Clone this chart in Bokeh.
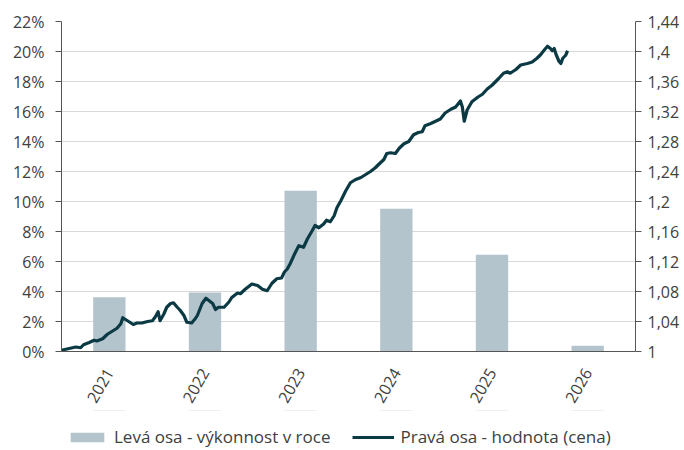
import math
from bokeh.plotting import figure
from bokeh.layouts import column
from bokeh.models import (Range1d, LinearAxis, FixedTicker, CustomJSTickFormatter,
                          Legend, LegendItem)
from bokeh.embed import file_html
from bokeh.resources import INLINE

# ---- data ----
years = [2021, 2022, 2023, 2024, 2025, 2026]
year_labels = ["2021", "2022", "2023", "2024", "2025", "2026"]
annual_perf = [3.62, 3.93, 10.71, 9.52, 6.45, 0.38]  # % (left axis)

price_t = [2020.50, 2020.51, 2020.58, 2020.65, 2020.70, 2020.73, 2020.79, 2020.84, 2020.87, 2020.93,
           2020.98, 2021.03, 2021.08, 2021.12, 2021.14, 2021.19, 2021.25, 2021.29, 2021.34, 2021.40,
           2021.45, 2021.48, 2021.51, 2021.53, 2021.57, 2021.60, 2021.64, 2021.67, 2021.71, 2021.74,
           2021.78, 2021.81, 2021.86, 2021.90, 2021.92, 2021.97, 2022.01, 2022.04, 2022.08, 2022.11,
           2022.14, 2022.20, 2022.25, 2022.28, 2022.34, 2022.37, 2022.42, 2022.49, 2022.55, 2022.60,
           2022.65, 2022.70, 2022.75, 2022.80, 2022.83, 2022.86, 2022.89, 2022.94, 2022.98, 2023.03,
           2023.07, 2023.12, 2023.15, 2023.19, 2023.24, 2023.27, 2023.31, 2023.35, 2023.38, 2023.42,
           2023.47, 2023.52, 2023.57, 2023.63, 2023.68, 2023.73, 2023.78, 2023.82, 2023.87, 2023.90,
           2023.94, 2023.99, 2024.03, 2024.08, 2024.13, 2024.18, 2024.23, 2024.27, 2024.30, 2024.36,
           2024.41, 2024.46, 2024.51, 2024.57, 2024.62, 2024.67, 2024.69, 2024.71, 2024.74, 2024.79,
           2024.85, 2024.90, 2024.95, 2025.00, 2025.07, 2025.12, 2025.16, 2025.19, 2025.25, 2025.30,
           2025.37, 2025.42, 2025.47, 2025.51, 2025.54, 2025.58, 2025.61, 2025.63, 2025.65, 2025.67,
           2025.70, 2025.72, 2025.74, 2025.77, 2025.79]
price_v = [1.000, 1.002, 1.004, 1.006, 1.005, 1.009, 1.012, 1.015, 1.014, 1.017,
           1.023, 1.027, 1.031, 1.037, 1.045, 1.041, 1.036, 1.038, 1.038, 1.040,
           1.041, 1.046, 1.053, 1.041, 1.050, 1.059, 1.064, 1.065, 1.059, 1.055,
           1.048, 1.039, 1.038, 1.044, 1.048, 1.064, 1.071, 1.068, 1.064, 1.056,
           1.059, 1.059, 1.066, 1.072, 1.078, 1.077, 1.083, 1.090, 1.088, 1.083,
           1.081, 1.091, 1.097, 1.098, 1.106, 1.110, 1.117, 1.131, 1.141, 1.139,
           1.150, 1.161, 1.168, 1.165, 1.170, 1.175, 1.173, 1.181, 1.192, 1.201,
           1.214, 1.225, 1.229, 1.232, 1.236, 1.240, 1.245, 1.250, 1.256, 1.264,
           1.265, 1.264, 1.271, 1.277, 1.280, 1.289, 1.292, 1.293, 1.301, 1.304,
           1.307, 1.310, 1.318, 1.323, 1.326, 1.334, 1.326, 1.307, 1.322, 1.333,
           1.339, 1.343, 1.350, 1.355, 1.364, 1.371, 1.373, 1.371, 1.376, 1.382,
           1.384, 1.386, 1.391, 1.396, 1.401, 1.407, 1.404, 1.401, 1.404, 1.396,
           1.387, 1.384, 1.391, 1.395, 1.401]

left_ticks = [0, 2, 4, 6, 8, 10, 12, 14, 16, 18, 20, 22]
left_tick_labels = ["0%", "2%", "4%", "6%", "8%", "10%", "12%", "14%", "16%", "18%", "20%", "22%"]
right_ticks = [1.00, 1.04, 1.08, 1.12, 1.16, 1.20, 1.24, 1.28, 1.32, 1.36, 1.40, 1.44]
right_tick_labels = ["1", "1,04", "1,08", "1,12", "1,16", "1,2", "1,24", "1,28", "1,32", "1,36", "1,4", "1,44"]

legend_bar_label = "Levá osa - výkonnost v roce"
legend_line_label = "Pravá osa - hodnota (cena)"

# ---- styles ----
FONT = "Open Sans"
TXT = "#404040"
BAR_COLOR = "#b4c4cc"
LINE_COLOR = "#0b3a45"
AXIS_COLOR = "#555555"
GRID_COLOR = "#d9d9d9"

lookup_js = """
for (let i = 0; i < tvals.length; i++) {
  if (Math.abs(tvals[i] - tick) < 1e-6) { return tlabels[i]; }
}
return '';
"""

def fmt(vals, labels):
    return CustomJSTickFormatter(args=dict(tvals=vals, tlabels=labels), code=lookup_js)

p = figure(width=684, height=410, output_backend="svg", toolbar_location=None,
           x_range=Range1d(years[0] - 0.5, years[-1] + 0.5),
           y_range=Range1d(left_ticks[0], left_ticks[-1]),
           min_border_left=61, min_border_right=49, min_border_top=21, min_border_bottom=57)
p.outline_line_color = None
p.background_fill_color = "white"
p.border_fill_color = "white"

p.extra_y_ranges = {"right": Range1d(right_ticks[0], right_ticks[-1])}

bars = p.vbar(x=years, top=annual_perf, width=0.338, fill_color=BAR_COLOR, line_color=None)
line = p.line(x=price_t, y=price_v, y_range_name="right", line_color=LINE_COLOR,
              line_width=3.2, line_join="round")

# grid
p.xgrid.grid_line_color = None
p.ygrid.grid_line_color = GRID_COLOR
p.ygrid.grid_line_width = 1
p.ygrid.ticker = FixedTicker(ticks=left_ticks)

# left axis
la = p.yaxis[0]
la.ticker = FixedTicker(ticks=left_ticks)
la.formatter = fmt(left_ticks, left_tick_labels)
la.minor_tick_line_color = None
la.major_tick_out = 6
la.major_tick_in = 0
la.axis_line_color = AXIS_COLOR
la.major_tick_line_color = AXIS_COLOR
la.major_label_text_font = FONT
la.major_label_text_font_size = "16px"
la.major_label_text_color = TXT
la.major_label_standoff = 11

# right axis
ra = LinearAxis(y_range_name="right", ticker=FixedTicker(ticks=right_ticks),
                formatter=fmt(right_ticks, right_tick_labels))
ra.minor_tick_line_color = None
ra.major_tick_out = 6
ra.major_tick_in = 0
ra.axis_line_color = AXIS_COLOR
ra.major_tick_line_color = AXIS_COLOR
ra.major_label_text_font = FONT
ra.major_label_text_font_size = "16px"
ra.major_label_text_color = TXT
ra.major_label_standoff = 6
p.add_layout(ra, "right")

# bottom axis
ba = p.xaxis[0]
ba.ticker = FixedTicker(ticks=years)
ba.formatter = fmt(years, year_labels)
ba.major_tick_line_color = None
ba.minor_tick_line_color = None
ba.axis_line_color = AXIS_COLOR
ba.major_label_orientation = math.pi / 3
ba.major_label_text_font = FONT
ba.major_label_text_font_size = "16px"
ba.major_label_text_color = TXT
ba.major_label_standoff = 12

# ---- legend strip below the chart (same series, kept above its visible y-range) ----
lg = figure(width=684, height=40, output_backend="svg", toolbar_location=None,
            x_axis_type=None, y_axis_type=None,
            x_range=Range1d(years[0] - 0.5, years[-1] + 0.5), y_range=Range1d(-3, -2),
            min_border=0)
lg.outline_line_color = None
lg.grid.grid_line_color = None
lg.background_fill_color = "white"
lg.border_fill_color = "white"
lg_bar = lg.vbar(x=years, top=annual_perf, bottom=0.5, width=0.338, fill_color=BAR_COLOR, line_color=None)
lg_line = lg.line(x=price_t, y=price_v, line_color=LINE_COLOR, line_width=3.2)

legend = Legend(items=[LegendItem(label=legend_bar_label, renderers=[lg_bar]),
                       LegendItem(label=legend_line_label, renderers=[lg_line])],
                orientation="horizontal", location=(5, 2),
                border_line_color=None, background_fill_alpha=0,
                label_text_font=FONT, label_text_font_size="17px", label_text_color=TXT,
                glyph_width=42, glyph_height=12, spacing=22, label_standoff=6,
                margin=0, padding=0)
lg.add_layout(legend)

layout = column(p, lg, spacing=0)
open("out.html", "w").write(file_html(layout, INLINE))
